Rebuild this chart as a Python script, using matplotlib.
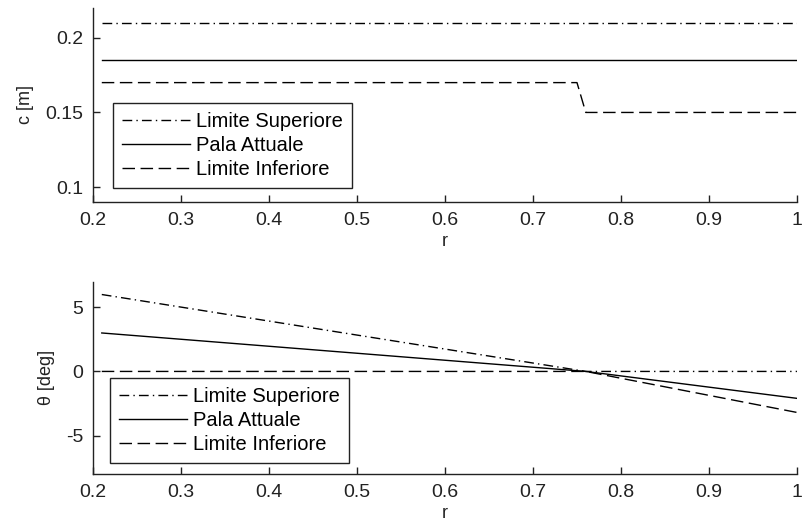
import matplotlib
matplotlib.use("Agg")
import matplotlib.pyplot as plt

plt.rcParams['font.family'] = ['Liberation Sans', 'DejaVu Sans']
plt.rcParams['font.size'] = 13

# dati corda
r_c = [0.21, 0.75, 0.76, 1.0]
c_sup = [0.21, 0.21, 0.21, 0.21]
c_att = [0.185, 0.185, 0.185, 0.185]
c_inf = [0.17, 0.17, 0.15, 0.15]

# dati svergolamento
r_t = [0.21, 0.76, 1.0]
th_sup = [6.0, 0.0, 0.0]
th_att = [3.0, 0.0, -2.1]
th_inf = [0.0, 0.0, -3.2]

labels = ["Limite Superiore", "Pala Attuale", "Limite Inferiore"]
x_ticks = [0.2, 0.3, 0.4, 0.5, 0.6, 0.7, 0.8, 0.9, 1.0]
x_ticklabels = ["0.2", "0.3", "0.4", "0.5", "0.6", "0.7", "0.8", "0.9", "1"]

dashdot = (0, (7, 3, 1, 3))
dashed = (0, (9, 4))

fig = plt.figure(figsize=(8.03, 5.23), dpi=100)
ax1 = fig.add_axes([0.1158, 0.6138, 0.8767, 0.3709])
ax2 = fig.add_axes([0.1158, 0.0937, 0.8767, 0.3677])


def formatta(ax, ylab):
    for s in ["top", "right"]:
        ax.spines[s].set_visible(False)
    for s in ["left", "bottom"]:
        ax.spines[s].set_linewidth(1.0)
        ax.spines[s].set_color("#222222")
    ax.tick_params(direction="in", length=5, width=1, colors="#222222",
                   labelsize=14, pad=7)
    ax.set_xlim(0.2, 1.0)
    ax.set_xticks(x_ticks)
    ax.set_xticklabels(x_ticklabels)
    ax.set_xlabel("r", fontsize=13, labelpad=3, color="#222222")
    ax.set_ylabel(ylab, fontsize=13, labelpad=8, color="#222222")


ax1.plot(r_c, c_sup, color="black", lw=1.0, linestyle=dashdot, label=labels[0])
ax1.plot(r_c, c_att, color="black", lw=1.0, linestyle="-", label=labels[1])
ax1.plot(r_c, c_inf, color="black", lw=1.0, linestyle=dashed, label=labels[2])
ax1.set_ylim(0.09, 0.22)
ax1.set_yticks([0.1, 0.15, 0.2])
ax1.set_yticklabels(["0.1", "0.15", "0.2"])
formatta(ax1, "c [m]")

ax2.plot(r_t, th_sup, color="black", lw=1.0, linestyle=dashdot, label=labels[0])
ax2.plot(r_t, th_att, color="black", lw=1.0, linestyle="-", label=labels[1])
ax2.plot(r_t, th_inf, color="black", lw=1.0, linestyle=dashed, label=labels[2])
ax2.set_ylim(-8, 7)
ax2.set_yticks([-5, 0, 5])
ax2.set_yticklabels(["-5", "0", "5"])
formatta(ax2, "θ [deg]")

for ax, anchor in [(ax1, (0.028, 0.072)), (ax2, (0.024, 0.057))]:
    leg = ax.legend(loc="lower left", bbox_to_anchor=anchor, borderaxespad=0,
                    fancybox=False, framealpha=1, edgecolor="#222222",
                    fontsize=14.5, handlelength=3.4, handletextpad=0.3,
                    labelspacing=0.25, borderpad=0.45)
    leg.get_frame().set_linewidth(1.0)

fig.savefig("out.png", dpi=100)
